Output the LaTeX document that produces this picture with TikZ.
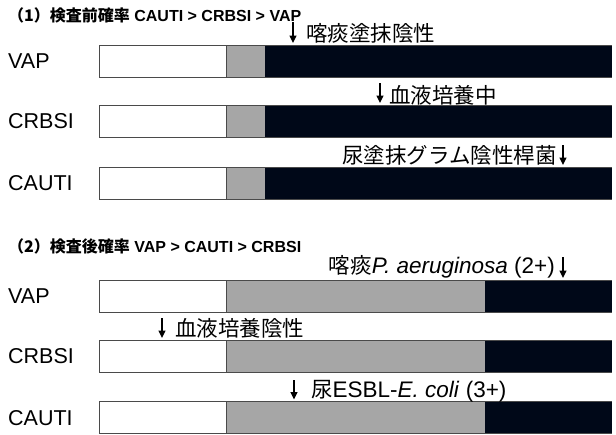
\documentclass[tikz,border=0pt]{standalone}
\usepackage{fontspec}
\setmainfont{Liberation Sans}
\newfontfamily\cjk{Noto Sans CJK JP}
\usetikzlibrary{arrows.meta}
\definecolor{barblack}{HTML}{000818}
\definecolor{bargray}{HTML}{A6A6A6}
\definecolor{barline}{HTML}{4A4A4A}
\begin{document}
\begin{tikzpicture}[x=1pt,y=-1pt,
  lbl/.style={anchor=west,inner sep=0pt,font=\fontsize{21.5}{21.5}\selectfont},
  ttl/.style={anchor=west,inner sep=0pt,font=\fontsize{16}{16}\selectfont\bfseries},
  ann/.style={inner sep=0pt,font=\fontsize{22.5}{22.5}\selectfont},
  jp/.style={font=\fontsize{21.5}{21.5}\selectfont\cjk},
  darr/.style={line width=1.4pt,-{Triangle[length=7.5pt,width=7pt]},black},
  whiteseg/.style={draw=barline,fill=white,line width=0.9pt},
  grayseg/.style={fill=bargray},
  blackseg/.style={fill=barblack}]
\useasboundingbox (0,0) rectangle (616,434);

\newcommand{\mybar}[3]{% top, white end, gray end
  \fill[grayseg] (#2,#1) rectangle (#3,#1+32);
  \fill[blackseg] (#3,#1) rectangle (612,#1+32);
  \draw[barline,line width=0.9pt] (#2,#1) -- (612,#1) (#2,#1+32) -- (612,#1+32);
  \draw[whiteseg] (99,#1) rectangle (#2,#1+32);
}
\newcommand{\jpt}[1]{{\fontsize{21.5}{21.5}\selectfont\cjk #1}}
% group 1
\node[ttl] (t1) at (8,15) {{\cjk （1）検査前確率} CAUTI > CRBSI > VAP};
\mybar{45}{226}{265}
\mybar{105}{226}{265}
\mybar{167}{226}{265}
\node[lbl] (l1) at (8,61) {VAP};
\node[lbl] (l2) at (8,121) {CRBSI};
\node[lbl] (l3) at (8,183) {CAUTI};

\node[ann,jp,anchor=west] (a1) at (306,33) {喀痰塗抹陰性};
\coordinate (a1s) at (293,22); \coordinate (a1e) at (293,43);
\draw[darr] (a1s) -- (a1e);
\node[ann,jp,anchor=west] (a2) at (389,95) {血液培養中};
\coordinate (a2s) at (380,83); \coordinate (a2e) at (380,103);
\draw[darr] (a2s) -- (a2e);
\node[ann,jp,anchor=east] (a3) at (557,155.5) {尿塗抹グラム陰性桿菌};
\coordinate (a3s) at (563,145); \coordinate (a3e) at (563,165);
\draw[darr] (a3s) -- (a3e);

% group 2
\node[ttl] (t2) at (8,246.5) {{\cjk （2）検査後確率} VAP > CAUTI > CRBSI};
\mybar{280}{226}{484.5}
\mybar{340}{226}{484.5}
\mybar{401.5}{226}{484.5}
\node[lbl] (l4) at (8,296) {VAP};
\node[lbl] (l5) at (8,356) {CRBSI};
\node[lbl] (l6) at (8,418) {CAUTI};

\node[ann,anchor=east] (b1) at (555,267) {\jpt{喀痰}\textit{P. aeruginosa} (2+)};
\coordinate (b1s) at (563,257); \coordinate (b1e) at (563,278);
\draw[darr] (b1s) -- (b1e);
\node[ann,jp,anchor=west] (b2) at (175,328.5) {血液培養陰性};
\coordinate (b2s) at (162,318); \coordinate (b2e) at (162,338);
\draw[darr] (b2s) -- (b2e);
\node[ann,anchor=west] (b3) at (311,391) {\jpt{尿}ESBL-\textit{E. coli} (3+)};
\coordinate (b3s) at (294,380); \coordinate (b3e) at (294,399.5);
\draw[darr] (b3s) -- (b3e);
\end{tikzpicture}
\end{document}
